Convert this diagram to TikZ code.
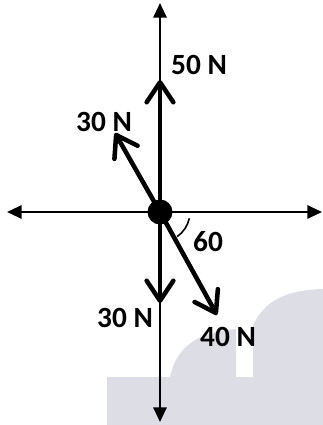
\documentclass[tikz,border=0pt]{standalone}
\usepackage{fontspec}
\setmainfont{Carlito}
\usetikzlibrary{arrows.meta,calc}
\definecolor{wmark}{RGB}{221,221,230}

\begin{document}
\begin{tikzpicture}[x=0.75pt,y=0.75pt,
    axis/.style={line width=1.5pt,{Triangle[length=11pt,width=10pt]}-{Triangle[length=11pt,width=10pt]}},
    force/.style={line width=3.4pt,-{Straight Barb[length=15pt,width=20pt,round]}},
    lbl/.style={font=\fontsize{22}{26}\selectfont\bfseries,inner sep=0pt}]
  \useasboundingbox (0,0) rectangle (323,425);
  % watermark behind the drawing
  \fill[wmark] (107,0) rectangle (323,48);
  \fill[wmark] (170,48) .. controls (176,76) and (195,93) .. (236,96) -- (236,48) -- cycle;
  \fill[wmark] (253,48) -- (253,100) .. controls (265,124) and (285,135) .. (323,136) -- (323,48) -- cycle;
  % axes
  \coordinate (O) at (160,213);
  \coordinate (xl) at (7,213);
  \coordinate (xr) at (322,213);
  \coordinate (yt) at (160,422);
  \coordinate (yb) at (160,3);
  \draw[axis] (xl) -- (xr);
  \draw[axis] (yb) -- (yt);
  % forces
  \coordinate (f50) at (160,345);
  \coordinate (f30u) at (115,292);
  \coordinate (f30d) at (160,122);
  \coordinate (f40) at (217,110);
  \draw[force] (O) -- (f50);
  \draw[force] (O) -- (f30u);
  \draw[force] (O) -- (f30d);
  \draw[force] (O) -- (f40);
  \fill (O) circle (12.5);
  \draw[line width=1.2pt] ($(O)+(-12:30)$) arc (-12:-55:30);
  % labels
  \node[lbl] (l50) at (199,360) {50 N};
  \node[lbl] (l30u) at (104,303) {30 N};
  \node[lbl] (l30d) at (125,107) {30 N};
  \node[lbl] (l40) at (228,88) {40 N};
  \node[lbl] (l60) at (208,183) {60};
\end{tikzpicture}
\end{document}
